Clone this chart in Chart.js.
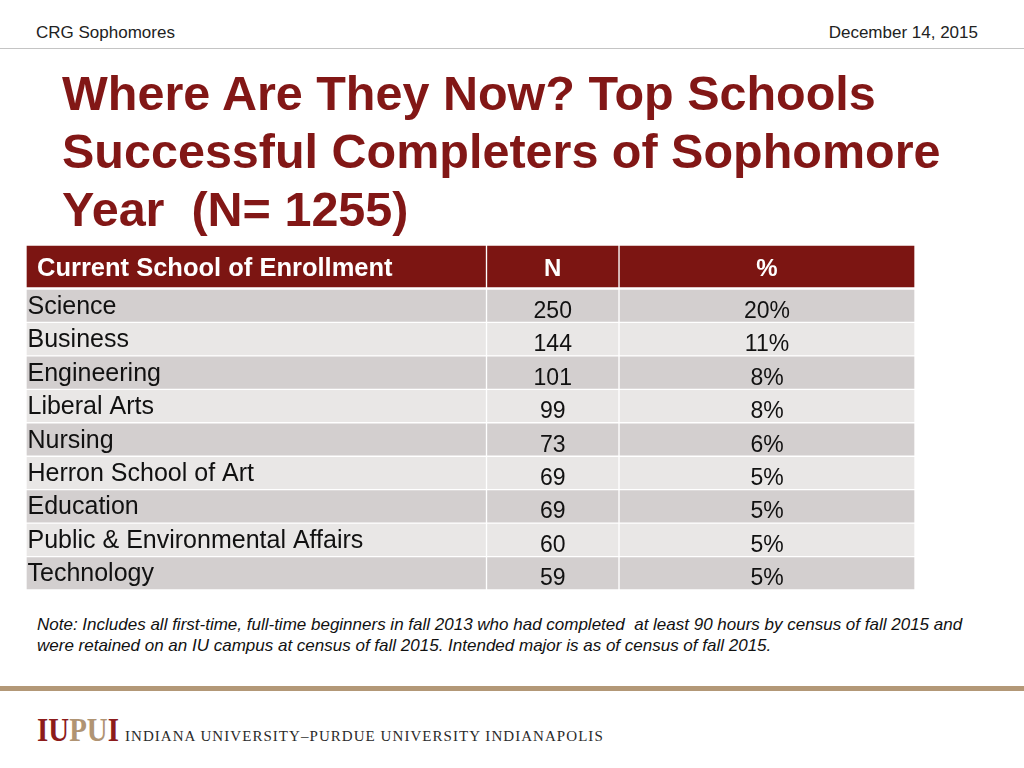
<!DOCTYPE html>
<html>
<head>
<meta charset="utf-8">
<script src="https://cdn.jsdelivr.net/npm/chart.js@4.4.1/dist/chart.umd.min.js"></script>
<style>
  html, body { margin:0; padding:0; background:#fff; width:1024px; height:768px; overflow:hidden; position:relative; font-family:"Liberation Sans", Arial, Helvetica, sans-serif; }
  .abs { position:absolute; white-space:nowrap; }
  #hdrL { left:36px; top:25px; font-size:17px; line-height:16px; color:#222; }
  #hdrR { right:46px; top:25px; font-size:17px; line-height:16px; color:#222; }
  #rule { left:0; top:48px; width:1024px; height:1px; background:#c4c4c4; }
  #title { left:62px; top:64px; font-size:48.5px; font-weight:bold; color:#821716; line-height:58px; }
  #headCanvasWrap { left:0; top:245px; width:1024px; height:43px; }
  #bodyCanvasWrap { left:0; top:289px; width:1024px; height:301px; }
  #note { left:37px; top:614px; font-size:17px; font-style:italic; color:#111; line-height:21px; }
  #tan { left:0; top:686px; width:1024px; height:5px; background:#b39877; }
  #logo { left:37px; top:710px; font-family:"Liberation Serif", "DejaVu Serif", serif; }
  #logoMark { display:inline-block; font-size:34px; font-weight:bold; line-height:40px; transform:scaleX(0.85); transform-origin:left center; }
  #logoText { position:absolute; left:88px; top:18px; font-size:15px; letter-spacing:1.05px; color:#2a2a2a; }
</style>
</head>
<body>
<div class="abs" id="hdrL">CRG Sophomores</div>
<div class="abs" id="hdrR">December 14, 2015</div>
<div class="abs" id="rule"></div>
<div class="abs" id="title">Where Are They Now? Top Schools<br>Successful Completers of Sophomore<br>Year&nbsp; (N= 1255)</div>
<div class="abs" id="headCanvasWrap"><canvas id="headChart" width="1024" height="43"></canvas></div>
<div class="abs" id="bodyCanvasWrap"><canvas id="bodyChart" width="1024" height="301"></canvas></div>
<div class="abs" id="note">Note: Includes all first-time, full-time beginners in fall 2013 who had completed&nbsp; at least 90 hours by census of fall 2015 and<br>were retained on an IU campus at census of fall 2015. Intended major is as of census of fall 2015.</div>
<div class="abs" id="tan"></div>
<div class="abs" id="logo"><span id="logoMark"><span style="color:#8c1b1b">IU</span><span style="color:#b09473">PU</span><span style="color:#8c1b1b">I</span></span><span id="logoText">INDIANA UNIVERSITY–PURDUE UNIVERSITY INDIANAPOLIS</span></div>

<script>
// ---- Data ----
const columnHeaders = ["Current School of Enrollment", "N", "%"];
const schools = ["Science", "Business", "Engineering", "Liberal Arts", "Nursing",
                 "Herron School of Art", "Education", "Public & Environmental Affairs", "Technology"];
const counts = [250, 144, 101, 99, 73, 69, 69, 60, 59];
const percents = [20, 11, 8, 8, 6, 5, 5, 5, 5];

// ---- Layout (x scale runs in page pixels 0..1024) ----
const COL_EDGES = [26, 486.5, 619, 915];
const FONT = '"Liberation Sans", Arial, Helvetica, sans-serif';
const HEADER_BG = '#7c1512';
const ROW_DARK = '#d3cfcf';
const ROW_LIGHT = '#e9e7e6';

const cellTextPlugin = {
  id: 'cellText',
  afterDatasetsDraw(chart) {
    const ctx = chart.ctx;
    chart.data.datasets.forEach((ds, di) => {
      const meta = chart.getDatasetMeta(di);
      meta.data.forEach((el, i) => {
        const left = Math.min(el.x, el.base), right = Math.max(el.x, el.base);
        const txt = ds.cellText[i];
        ctx.save();
        ctx.fillStyle = ds.textColor;
        ctx.font = ds.textFont;
        ctx.textBaseline = 'alphabetic';
        if (ds.textAlign === 'left') {
          ctx.textAlign = 'left';
          ctx.fillText(txt, left + ds.textPad, el.y + ds.textDy);
        } else {
          ctx.textAlign = 'center';
          ctx.fillText(txt, (left + right) / 2, el.y + ds.textDy);
        }
        ctx.restore();
      });
    });
  }
};

function tableChart(canvasId, rowLabels, colTexts, bgColors, styles) {
  return new Chart(document.getElementById(canvasId), {
    type: 'bar',
    data: {
      labels: rowLabels,
      datasets: [0, 1, 2].map(c => ({
        label: columnHeaders[c],
        data: rowLabels.map(() => [COL_EDGES[c], COL_EDGES[c + 1]]),
        backgroundColor: bgColors,
        borderColor: '#ffffff',
        borderWidth: 1,
        borderSkipped: false,
        grouped: false,
        barPercentage: 1,
        categoryPercentage: 1,
        cellText: colTexts[c],
        textColor: styles[c].color,
        textFont: styles[c].font,
        textAlign: styles[c].align,
        textPad: styles[c].pad,
        textDy: styles[c].dy
      }))
    },
    options: {
      indexAxis: 'y',
      responsive: false,
      animation: false,
      events: [],
      layout: { padding: 0 },
      plugins: { legend: { display: false }, tooltip: { enabled: false } },
      scales: {
        x: { type: 'linear', min: 0, max: 1024, display: false },
        y: { type: 'category', display: false, offset: true }
      }
    },
    plugins: [cellTextPlugin]
  });
}

// Header row
tableChart('headChart', ['header'],
  [[columnHeaders[0]], [columnHeaders[1]], [columnHeaders[2]]],
  [HEADER_BG],
  [
    { color: '#ffffff', font: 'bold 25.5px ' + FONT, align: 'left', pad: 11, dy: 9 },
    { color: '#ffffff', font: 'bold 24px ' + FONT, align: 'center', pad: 0, dy: 9 },
    { color: '#ffffff', font: 'bold 24px ' + FONT, align: 'center', pad: 0, dy: 9 }
  ]);

// Body rows
tableChart('bodyChart', schools,
  [schools, counts.map(String), percents.map(p => p + '%')],
  schools.map((_, i) => i % 2 === 0 ? ROW_DARK : ROW_LIGHT),
  [
    { color: '#111111', font: '25px ' + FONT, align: 'left', pad: 1.5, dy: 8 },
    { color: '#111111', font: '23px ' + FONT, align: 'center', pad: 0, dy: 12 },
    { color: '#111111', font: '23px ' + FONT, align: 'center', pad: 0, dy: 12 }
  ]);
</script>
</body>
</html>
